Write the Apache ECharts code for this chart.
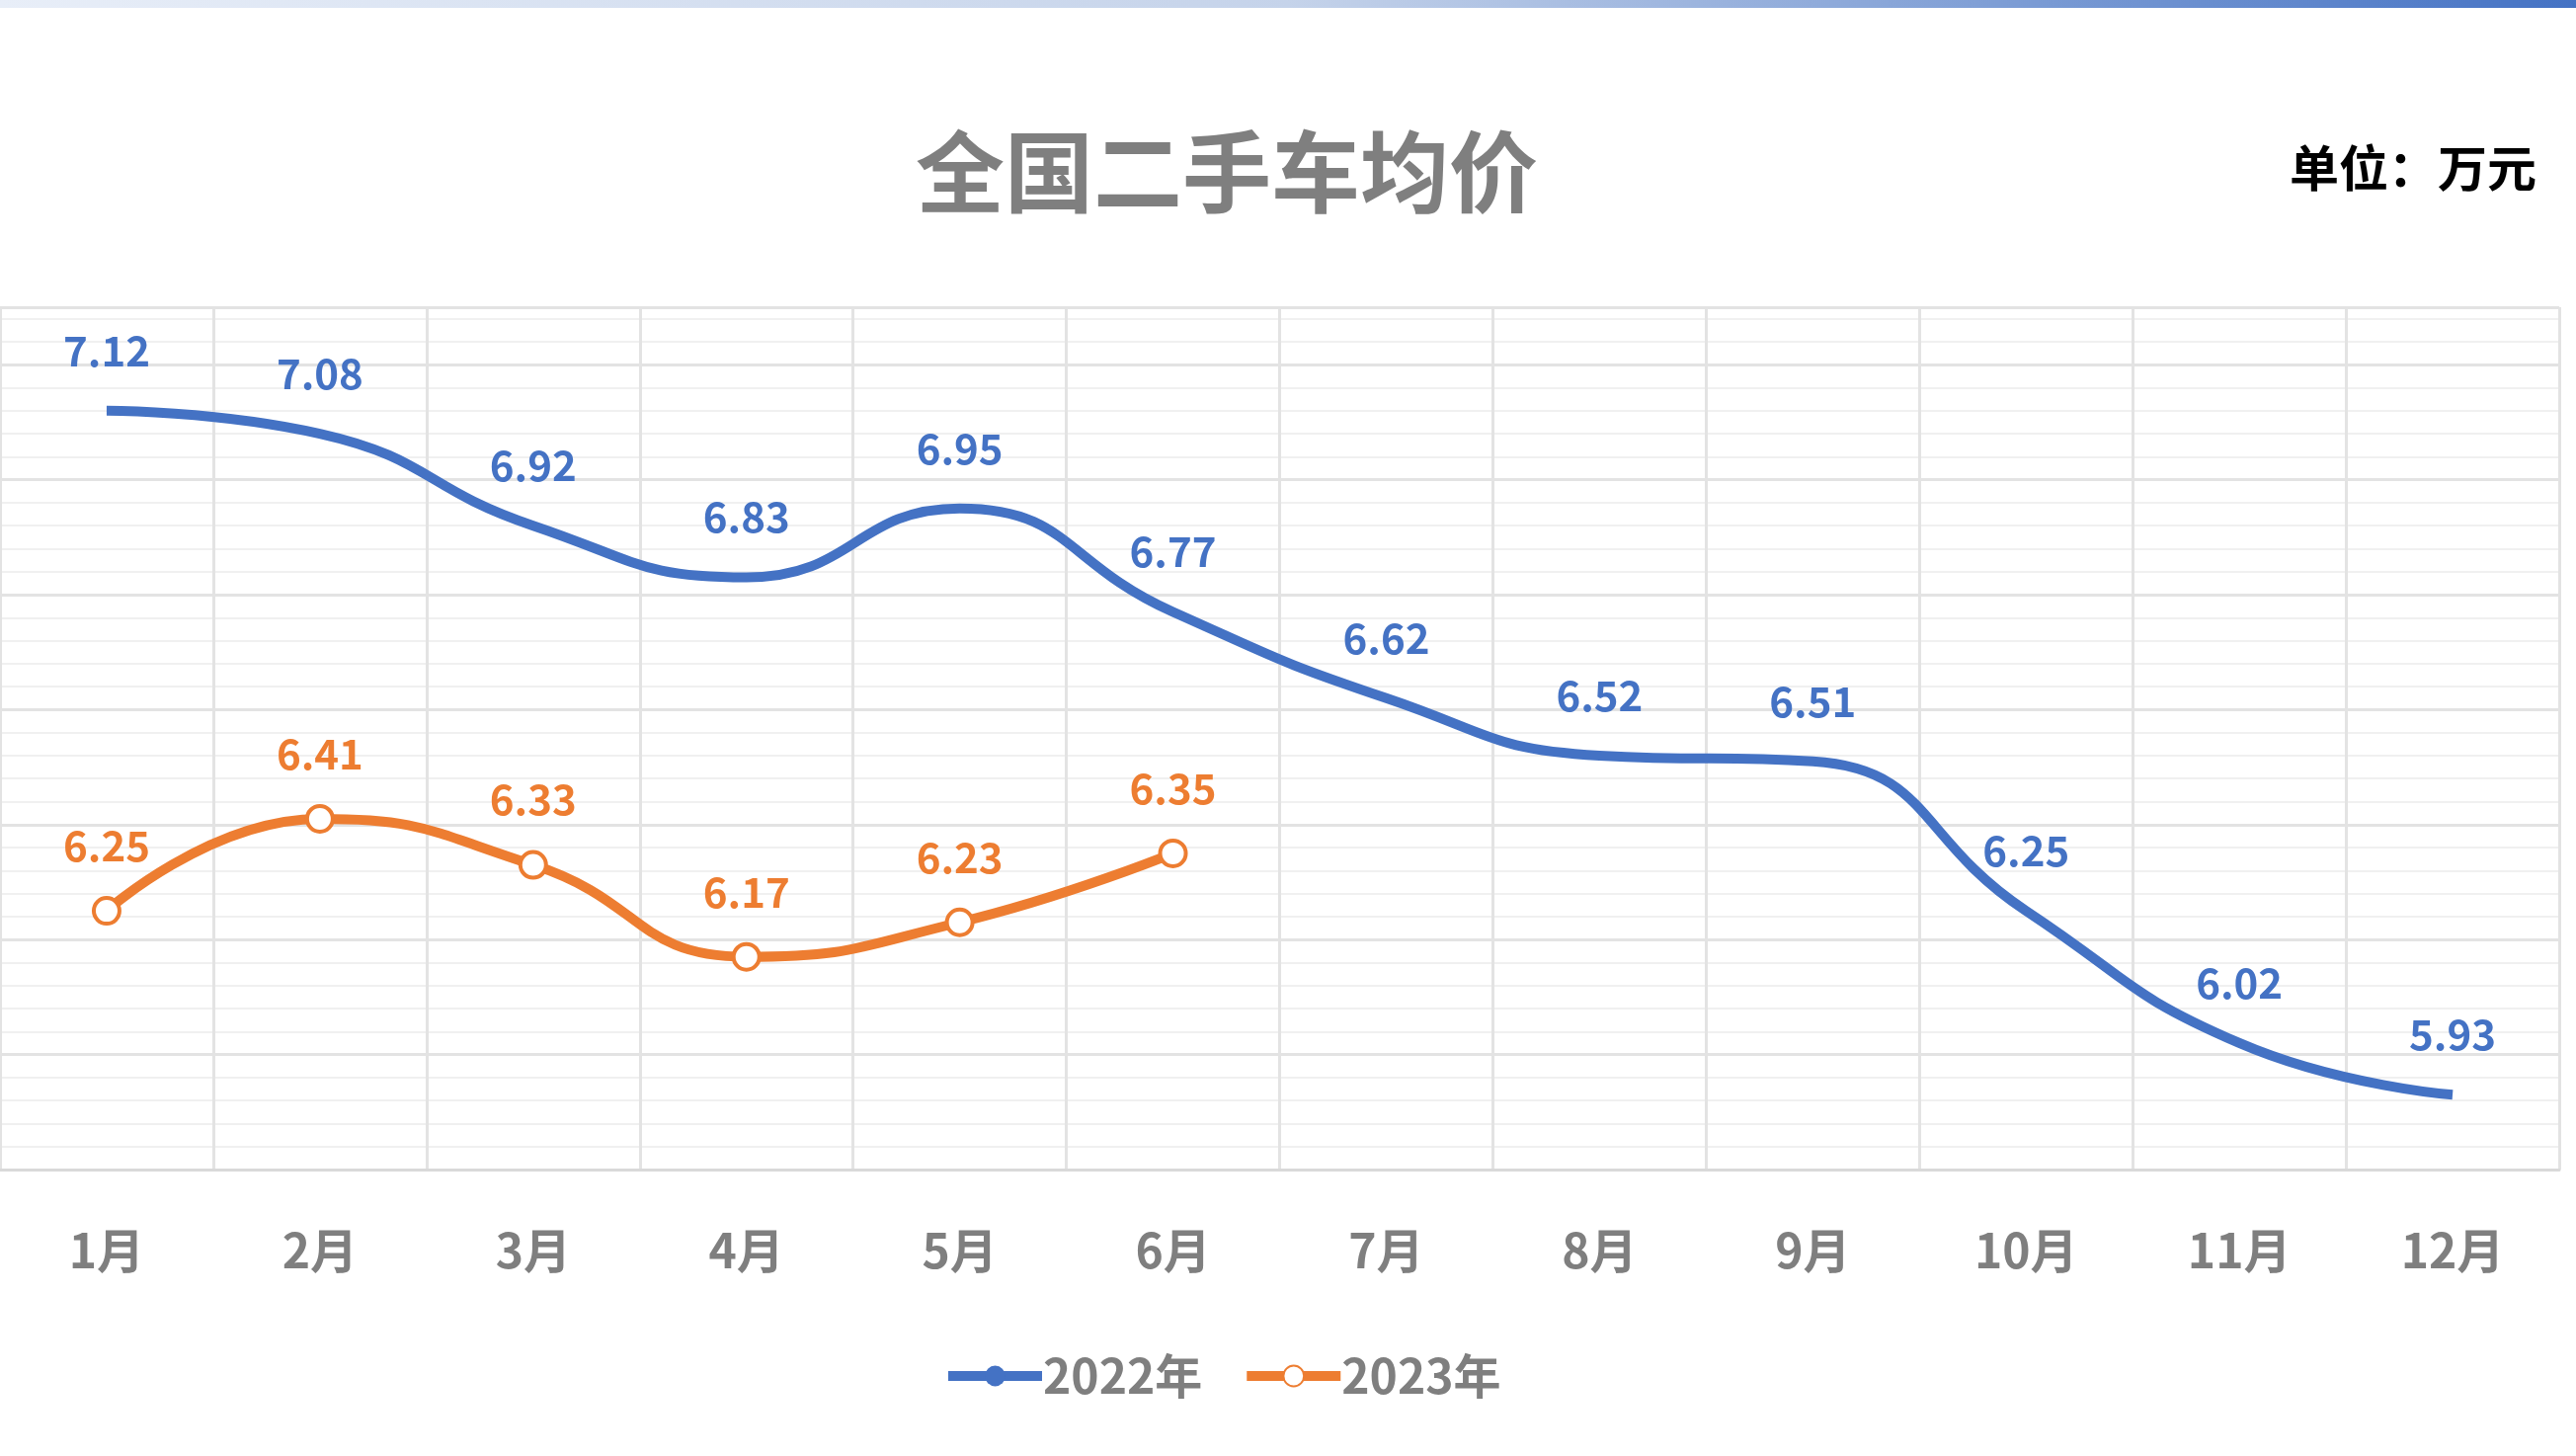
<!DOCTYPE html>
<html><head><meta charset="utf-8">
<script src="https://cdn.jsdelivr.net/npm/echarts@6/dist/echarts.min.js"></script>
<style>html,body{margin:0;padding:0;background:#fff}#c{width:2608px;height:1474px}</style>
</head><body><div id="c"></div>
<script>
var months = ['1月','2月','3月','4月','5月','6月','7月','8月','9月','10月','11月','12月'];
var y2022 = [7.12, 7.08, 6.92, 6.83, 6.95, 6.77, 6.62, 6.52, 6.51, 6.25, 6.02, 5.93];
var y2023 = [6.25, 6.41, 6.33, 6.17, 6.23, 6.35];
var font = '"Noto Sans CJK SC", sans-serif';

var chart = echarts.init(document.getElementById('c'));
chart.setOption({
    textStyle: { fontFamily: font },
    graphic: [{
        type: 'rect', left: 0, top: 0,
        shape: { width: 2608, height: 8 },
        style: { fill: new echarts.graphic.LinearGradient(0, 0, 1, 0, [
            { offset: 0, color: '#e8eef8' }, { offset: 0.5, color: '#c5d3ea' }, { offset: 1, color: '#4472c4' }]) }
    }],
    title: [{
        text: '全国二手车均价', left: 922, top: 124,
        textStyle: { fontSize: 90, fontWeight: 'bold', color: '#7f7f7f', fontFamily: font }
    }, {
        text: '单位：万元', right: 35, top: 140,
        textStyle: { fontSize: 50, fontWeight: 'bold', color: '#000', fontFamily: font }
    }],
    legend: {
        bottom: 52, left: 950, itemWidth: 95, itemHeight: 26, itemGap: 40,
        lineStyle: { width: 10 },
        textStyle: { fontSize: 48, fontWeight: 'bold', color: '#7f7f7f', fontFamily: font, padding: [0, 0, 0, -4] },
        data: ['2022年', '2023年']
    },
    grid: { left: 0, right: 17, top: 311, bottom: 290 },
    xAxis: {
        type: 'category', data: months, boundaryGap: true,
        axisLine: { lineStyle: { color: '#d9d9d9', width: 3 } },
        axisTick: { show: false },
        splitLine: { show: true, lineStyle: { color: '#e3e3e3', width: 3 } },
        axisLabel: { fontSize: 48, fontWeight: 'bold', color: '#7f7f7f', margin: 58, fontFamily: font }
    },
    yAxis: {
        type: 'value', min: 5.8, max: 7.3, interval: 0.2,
        axisLabel: { show: false }, axisLine: { show: false }, axisTick: { show: false },
        splitLine: { lineStyle: { color: '#e3e3e3', width: 3 } },
        minorSplitLine: { show: true, lineStyle: { color: '#f0f0f0', width: 2 } },
        minorTick: { splitNumber: 5 }
    },
    series: [{
        name: '2022年', type: 'line', data: y2022, smooth: true,
        symbol: 'circle', symbolSize: 0.1, showAllSymbol: true,
        lineStyle: { color: '#4472c4', width: 10 }, itemStyle: { color: '#4472c4' },
        label: { show: true, position: 'top', distance: 40, fontSize: 42, fontWeight: 'bold', color: '#4472c4', fontFamily: font }
    }, {
        name: '2023年', type: 'line', data: y2023, smooth: true,
        symbol: 'circle', symbolSize: 26, showAllSymbol: true,
        lineStyle: { color: '#ed7d31', width: 10 },
        itemStyle: { color: '#fff', borderColor: '#ed7d31', borderWidth: 4 },
        label: { show: true, position: 'top', distance: 30, fontSize: 42, fontWeight: 'bold', color: '#ed7d31', fontFamily: font }
    }]
});
</script></body></html>
